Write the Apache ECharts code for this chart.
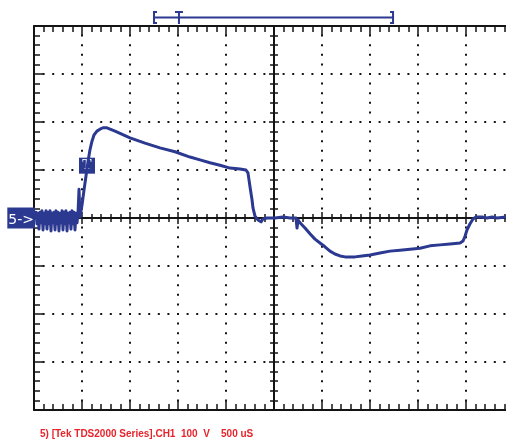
<!DOCTYPE html>
<html>
<head>
<meta charset="utf-8">
<script src="https://cdn.jsdelivr.net/npm/echarts@6/dist/echarts.min.js"></script>
<style>
  html, body { margin: 0; padding: 0; background: #fff; }
  #chart { width: 506px; height: 441px; }
</style>
</head>
<body>
<div id="chart"></div>
<script>
// CH1 capture: time in microseconds relative to screen centre, level in volts
const timeUs = [
  -2490,-2479,-2469,-2458,-2448,-2438,-2427,-2417,-2406,-2396,
  -2385,-2375,-2365,-2354,-2344,-2333,-2323,-2313,-2302,-2292,
  -2281,-2271,-2260,-2250,-2240,-2229,-2219,-2208,-2198,-2188,
  -2177,-2167,-2156,-2146,-2135,-2125,-2115,-2104,-2094,-2083,
  -2073,-2063,-2052,-2042,-2031,-2021,
  -2000,-1979,-1958,-1938,-1917,-1896,-1875,-1844,-1813,-1781,
  -1740,-1656,-1500,-1344,-1188,-1031,-875,-771,-667,-563,
  -458,-354,-292,-271,-250,-229,-219,-198,-167,-135,
  -115,-73,10,94,167,229,240,250,271,323,
  375,427,479,531,583,635,688,740,844,917,
  1000,1104,1208,1313,1417,1521,1625,1729,1833,1938,
  1969,1990,2010,2042,2073,2104,2167,2219,2271,2323,
  2417,2500
];
const volts = [
  0,12,-12,10,-23,12,-10,15,-25,10,
  -12,15,-23,12,-12,15,-27,10,-10,12,
  -25,15,-12,12,-27,10,-10,15,-25,12,
  -12,15,-27,10,-10,12,-23,15,-12,12,
  -25,10,-10,8,60,2,
  27,58,88,117,142,160,173,181,185,188,
  188,181,167,156,146,138,127,121,115,110,
  104,102,100,94,65,38,21,4,-4,-8,
  -2,0,0,2,0,0,-21,-4,-10,-21,
  -33,-44,-52,-60,-69,-75,-79,-81,-81,-79,
  -77,-73,-69,-67,-65,-63,-58,-56,-54,-52,
  -48,-38,-25,-12,-2,2,2,0,2,0,
  2,0
];

// Screen scale: 500 uS/div over 10 divisions, 100 V/div over 8 divisions
const timeRange = [-2500, 2500];
const timePerDiv = 500;
const voltRange = [-400, 400];
const voltsPerDiv = 100;

// Trigger point marker and record-window bracket
const triggerPoint = [-1948, 109];
const recordView = [-1250, 1240];
const recordTrigger = -990;

const channelLabel = '5->';
const footer = '5) [Tek TDS2000 Series].CH1  100  V    500 uS';

const TRACE = '#2B3990';
const INK = '#141414';

const tickStyle = { color: INK, width: 1.5 };
const dotted = { color: INK, width: 2, type: [2, 7.6], dashOffset: 1 };

function xAx(extra) {
  return Object.assign({
    type: 'value', min: timeRange[0], max: timeRange[1], interval: timePerDiv,
    axisLabel: { show: false }, splitLine: { show: false }
  }, extra);
}
function yAx(extra) {
  return Object.assign({
    type: 'value', min: voltRange[0], max: voltRange[1], interval: voltsPerDiv,
    axisLabel: { show: false }, splitLine: { show: false }
  }, extra);
}

const chart = echarts.init(document.getElementById('chart'), null, { renderer: 'canvas' });

const option = {
  backgroundColor: '#ffffff',
  animation: false,
  title: {
    text: footer, left: 35, top: 424,
    textStyle: { color: '#E8232B', fontSize: 10, fontWeight: 'bold', fontFamily: 'Liberation Sans' }
  },
  // the graticule runs past the right edge of the view
  grid: { left: 34, top: 26, width: 480, height: 384, containLabel: false, outerBoundsMode: 'none' },
  xAxis: [
    // bottom frame with dotted division lines
    xAx({ position: 'bottom',
      axisLine: { onZero: false, lineStyle: { color: INK, width: 2 } },
      axisTick: { inside: true, length: 9, lineStyle: tickStyle },
      minorTick: { show: true, splitNumber: 5, length: 6, lineStyle: tickStyle },
      splitLine: { show: true, lineStyle: dotted } }),
    // top frame
    xAx({ position: 'top',
      axisLine: { onZero: false, lineStyle: { color: INK, width: 2 } },
      axisTick: { inside: true, length: 9, lineStyle: tickStyle },
      minorTick: { show: true, splitNumber: 5, length: 6, lineStyle: tickStyle } }),
    // centre horizontal graticule, ticks both ways
    xAx({ position: 'bottom',
      axisLine: { onZero: true, onZeroAxisIndex: 0, lineStyle: { color: INK, width: 2 } },
      axisTick: { inside: true, length: 6, lineStyle: tickStyle },
      minorTick: { show: true, splitNumber: 5, length: 4, lineStyle: tickStyle } }),
    xAx({ position: 'bottom',
      axisLine: { onZero: true, onZeroAxisIndex: 0, lineStyle: { color: INK, width: 2 } },
      axisTick: { inside: false, length: 6, lineStyle: tickStyle },
      minorTick: { show: true, splitNumber: 5, length: 4, lineStyle: tickStyle } })
  ],
  yAxis: [
    // left frame with dotted division lines and the channel ground marker
    yAx({ position: 'left',
      axisLine: { onZero: false, lineStyle: { color: INK, width: 2 } },
      axisTick: { inside: true, length: 9, lineStyle: tickStyle },
      minorTick: { show: true, splitNumber: 5, length: 6, lineStyle: tickStyle },
      splitLine: { show: true, lineStyle: dotted },
      axisLabel: {
        show: true, margin: -1,
        formatter: v => (v === 0 ? '{m|' + channelLabel + '}' : ''),
        rich: {
          m: { color: '#ffffff', backgroundColor: TRACE, fontSize: 14, fontFamily: 'DejaVu Sans',
               padding: [6, 1, 1, 1], lineHeight: 16 }
        }
      } }),
    // centre vertical graticule, ticks both ways
    yAx({ position: 'left',
      axisLine: { onZero: true, onZeroAxisIndex: 0, lineStyle: { color: INK, width: 2 } },
      axisTick: { inside: true, length: 5, lineStyle: tickStyle },
      minorTick: { show: true, splitNumber: 5, length: 4, lineStyle: tickStyle } }),
    yAx({ position: 'left',
      axisLine: { onZero: true, onZeroAxisIndex: 0, lineStyle: { color: INK, width: 2 } },
      axisTick: { inside: false, length: 5, lineStyle: tickStyle },
      minorTick: { show: true, splitNumber: 5, length: 4, lineStyle: tickStyle } })
  ],
  series: [{
    name: 'CH1', type: 'line', xAxisIndex: 0, yAxisIndex: 0,
    data: timeUs.map((t, i) => [t, volts[i]]),
    showSymbol: false, symbol: 'none', smooth: false,
    lineStyle: { color: TRACE, width: 3, join: 'round' },
    z: 5,
    markPoint: {
      symbol: 'rect', symbolSize: [16, 16],
      itemStyle: { color: TRACE },
      label: { show: true, position: 'inside', formatter: 'T', color: '#ffffff', fontSize: 14,
               fontWeight: 'bold', fontFamily: 'Liberation Serif' },
      data: [{ coord: triggerPoint }]
    }
  }]
};

chart.setOption(option);

// Record-window bracket above the graticule
const xL = chart.convertToPixel({ xAxisIndex: 0 }, recordView[0]);
const xR = chart.convertToPixel({ xAxisIndex: 0 }, recordView[1]);
const xT = chart.convertToPixel({ xAxisIndex: 0 }, recordTrigger);
const bs = { stroke: TRACE, lineWidth: 2, fill: null };
chart.setOption({
  graphic: [
    { type: 'line', shape: { x1: xL, y1: 17.5, x2: xR, y2: 17.5 }, style: bs, z: 10 },
    { type: 'polyline', shape: { points: [[xL + 3, 12], [xL, 12], [xL, 23], [xL + 3, 23]] }, style: bs, z: 10 },
    { type: 'polyline', shape: { points: [[xR - 3, 12], [xR, 12], [xR, 23], [xR - 3, 23]] }, style: bs, z: 10 },
    { type: 'line', shape: { x1: xT, y1: 12, x2: xT, y2: 24 }, style: bs, z: 10 },
    { type: 'line', shape: { x1: xT - 4, y1: 12, x2: xT + 4, y2: 12 }, style: bs, z: 10 }
  ]
});
</script>
</body>
</html>
